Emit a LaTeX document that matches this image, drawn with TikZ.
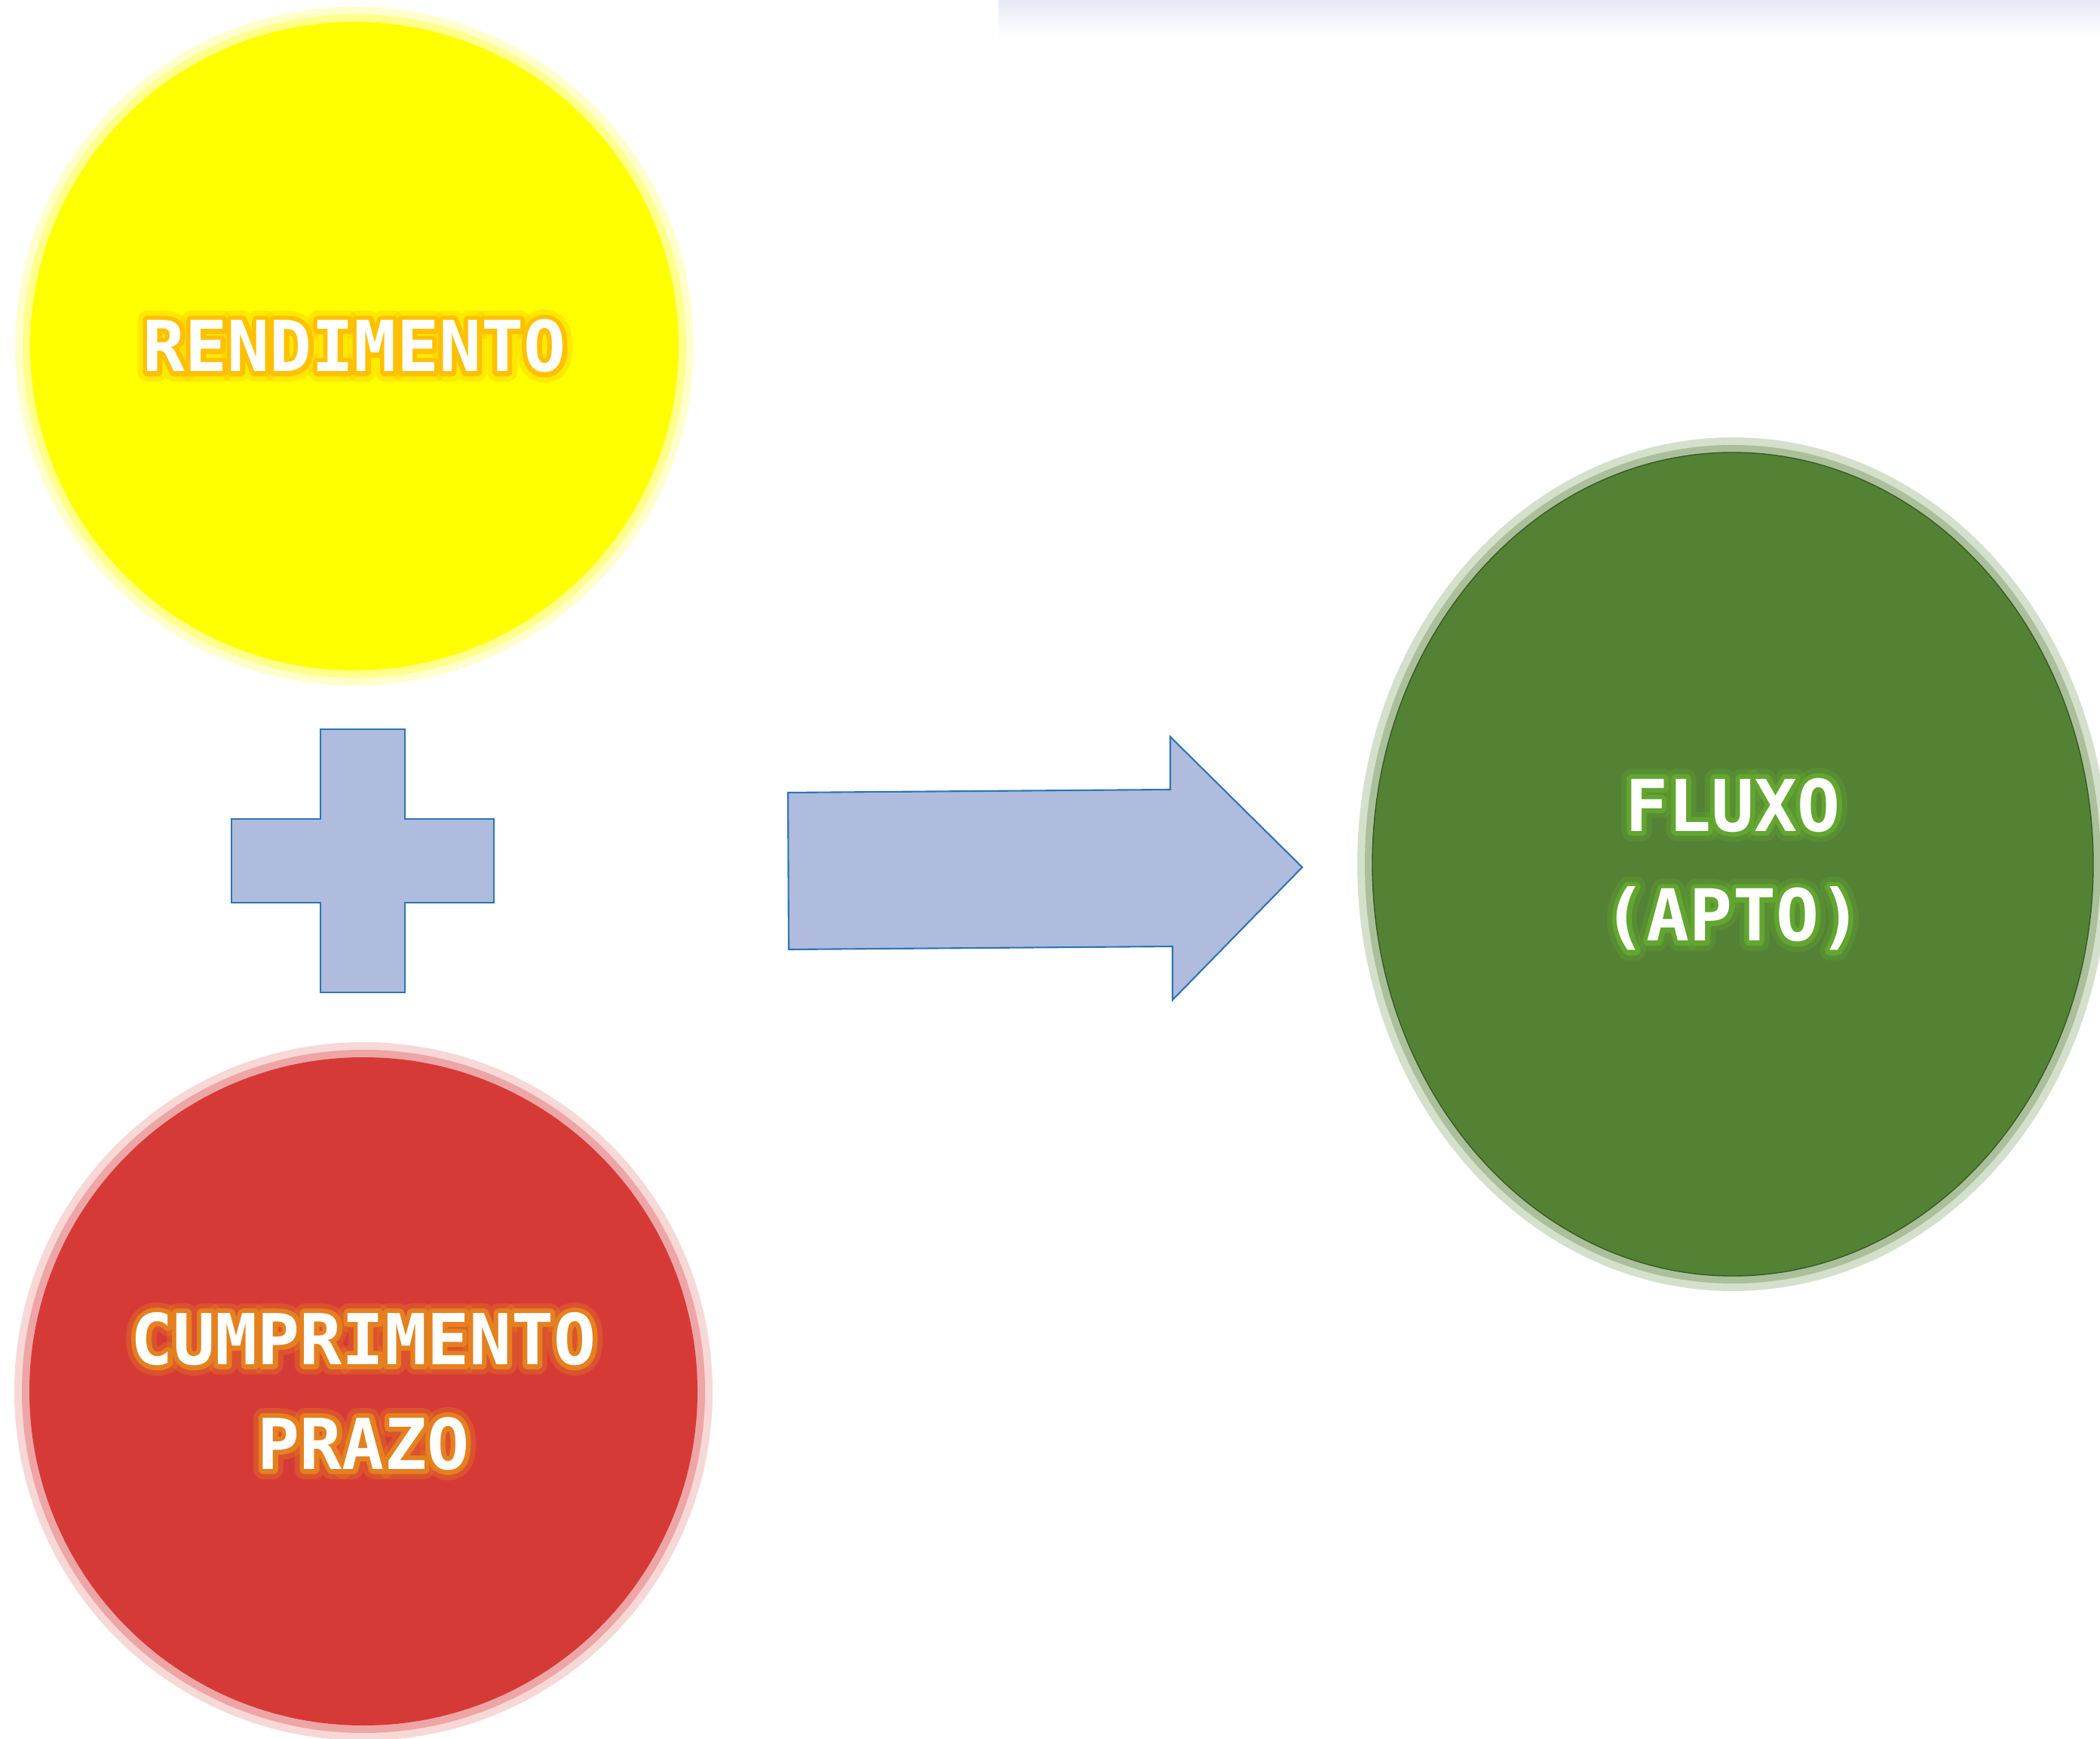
\documentclass[tikz,border=0pt]{standalone}
\usepackage{fontspec}
\setmonofont{DejaVu Sans Mono}
\usetikzlibrary{positioning,shapes.geometric}
\definecolor{sol}{HTML}{FFFF00}
\definecolor{amber}{HTML}{FFC000}
\definecolor{brick}{HTML}{D63A37}
\definecolor{ember}{HTML}{E5801F}
\definecolor{leaf}{HTML}{548235}
\definecolor{leafdark}{HTML}{3A5A27}
\definecolor{sprout}{HTML}{62A530}
\definecolor{steel}{HTML}{AFBCDD}
\definecolor{edge}{HTML}{2E75B6}
\definecolor{bandtop}{HTML}{E7EAF6}

\begin{document}
\begin{tikzpicture}[
    lbl/.style={font=\ttfamily\bfseries\fontsize{26.5}{39.5}\selectfont, align=center, inner sep=0pt},
    big/.style={font=\ttfamily\bfseries\fontsize{27}{41.5}\selectfont},
    halo/.style={lbl, text=#1,
      execute at begin node={\special{pdf:literal direct 1 Tr 1 j 1 J 3.6 w}},
      execute at end node={\special{pdf:literal direct 0 Tr}}},
    widehalo/.style={lbl, text=#1, opacity=.35,
      execute at begin node={\special{pdf:literal direct 1 Tr 1 j 1 J 7.5 w}},
      execute at end node={\special{pdf:literal direct 0 Tr}}},
    blob/.style={inner sep=0pt, outer sep=0pt}]
  \useasboundingbox (0,0) rectangle (27.85,23.05);

  % faded band top right
  \shade[top color=bandtop, bottom color=white] (13.24,22.55) rectangle (27.85,23.05);

  % circles
  \node[blob, circle, minimum size=8.6cm, fill=sol,
    preaction={draw=sol!20, line width=.4cm},
    preaction={draw=sol!45, line width=.2cm}] (rend) at (4.70,18.46) {};
  \node[blob, circle, minimum size=8.86cm, fill=brick,
    preaction={draw=brick!20, line width=.4cm},
    preaction={draw=brick!45, line width=.2cm}] (prazo) at (4.82,4.60) {};
  \node[blob, ellipse, minimum width=9.56cm, minimum height=10.92cm, fill=leaf, draw=leafdark, thin,
    preaction={draw=leaf!25, line width=.4cm},
    preaction={draw=leaf!50, line width=.2cm}] (fluxo) at (22.98,11.59) {};

  % plus
  \draw[fill=steel, draw=edge, line width=.6pt] (4.25,13.38) -- (5.37,13.38) -- (5.37,12.19) -- (6.55,12.19)
    -- (6.55,11.08) -- (5.37,11.08) -- (5.37,9.89) -- (4.25,9.89) -- (4.25,11.08) -- (3.07,11.08)
    -- (3.07,12.19) -- (4.25,12.19) -- cycle;

  % block arrow
  \draw[fill=steel, draw=edge, line width=.6pt] (10.45,12.54) -- (15.52,12.58) -- (15.52,13.28)
    -- (17.27,11.55) -- (15.55,9.79) -- (15.55,10.50) -- (10.46,10.46) -- cycle;

  % glowing labels
  \node[widehalo=amber] at (rend) {RENDIMENTO};
  \node[halo=amber] at (rend) {RENDIMENTO};
  \node[lbl, text=white] (t1) at (rend) {RENDIMENTO};

  \node[widehalo=ember] at (prazo) {CUMPRIMENTO\\PRAZO};
  \node[halo=ember] at (prazo) {CUMPRIMENTO\\PRAZO};
  \node[lbl, text=white] (t2) at (prazo) {CUMPRIMENTO\\PRAZO};

  \node[widehalo=sprout, big] at (fluxo) {FLUXO\\(APTO)};
  \node[halo=sprout, big] at (fluxo) {FLUXO\\(APTO)};
  \node[lbl, big, text=white] (t3) at (fluxo) {FLUXO\\(APTO)};
\end{tikzpicture}
\end{document}
